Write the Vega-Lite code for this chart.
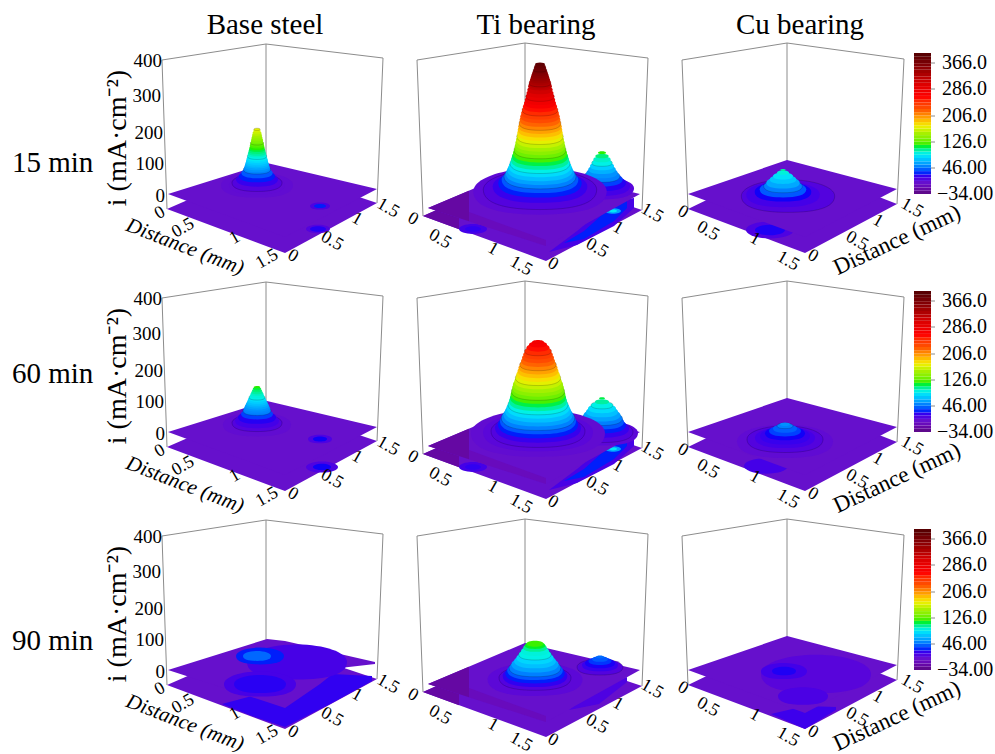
{"$schema":"https://vega.github.io/schema/vega-lite/v6.json","padding":{"left":12,"top":10,"right":0,"bottom":0},"background":"white",
"config":{"view":{"stroke":null},"text":{"font":"Liberation Serif","fill":"#000"}},
"data":{"values":[
{"k":"l","c":1,"r":[15,60,90],"g":"a","u":30,"v":216},{"k":"l","c":1,"r":[15,60,90],"g":"a","u":35,"v":67},
{"k":"l","c":1,"r":[15,60,90],"g":"b","u":134,"v":232},{"k":"l","c":1,"r":[15,60,90],"g":"b","u":134,"v":110},
{"k":"l","c":1,"r":[15,60,90],"g":"c","u":251,"v":218},{"k":"l","c":1,"r":[15,60,90],"g":"c","u":245,"v":73},
{"k":"l","c":1,"r":[15,60,90],"g":"d","u":30,"v":216},{"k":"l","c":1,"r":[15,60,90],"g":"d","u":134,"v":232},{"k":"l","c":1,"r":[15,60,90],"g":"d","u":251,"v":218},
{"k":"l","c":2,"r":[15,60,90],"g":"a","u":18,"v":216},{"k":"l","c":2,"r":[15,60,90],"g":"a","u":24,"v":60},
{"k":"l","c":2,"r":[15,60,90],"g":"b","u":126,"v":233},{"k":"l","c":2,"r":[15,60,90],"g":"b","u":126,"v":105},
{"k":"l","c":2,"r":[15,60,90],"g":"c","u":249,"v":218},{"k":"l","c":2,"r":[15,60,90],"g":"c","u":243,"v":66},
{"k":"l","c":2,"r":[15,60,90],"g":"d","u":18,"v":216},{"k":"l","c":2,"r":[15,60,90],"g":"d","u":126,"v":233},{"k":"l","c":2,"r":[15,60,90],"g":"d","u":249,"v":218},
{"k":"l","c":3,"r":[15,60,90],"g":"a","u":16,"v":216},{"k":"l","c":3,"r":[15,60,90],"g":"a","u":22,"v":67},
{"k":"l","c":3,"r":[15,60,90],"g":"b","u":121,"v":233},{"k":"l","c":3,"r":[15,60,90],"g":"b","u":121,"v":115},
{"k":"l","c":3,"r":[15,60,90],"g":"c","u":238,"v":217},{"k":"l","c":3,"r":[15,60,90],"g":"c","u":231,"v":72},
{"k":"l","c":3,"r":[15,60,90],"g":"d","u":16,"v":216},{"k":"l","c":3,"r":[15,60,90],"g":"d","u":121,"v":233},{"k":"l","c":3,"r":[15,60,90],"g":"d","u":238,"v":217},
{"k":"l","c":3,"r":[15,60,90],"g":"t1","u":265,"v":213},{"k":"l","c":3,"r":[15,60,90],"g":"t1","u":269,"v":213},
{"k":"l","c":3,"r":[15,60,90],"g":"t2","u":265,"v":187},{"k":"l","c":3,"r":[15,60,90],"g":"t2","u":269,"v":187},
{"k":"l","c":3,"r":[15,60,90],"g":"t3","u":265,"v":160},{"k":"l","c":3,"r":[15,60,90],"g":"t3","u":269,"v":160},
{"k":"l","c":3,"r":[15,60,90],"g":"t4","u":265,"v":134},{"k":"l","c":3,"r":[15,60,90],"g":"t4","u":269,"v":134},
{"k":"l","c":3,"r":[15,60,90],"g":"t5","u":265,"v":108},{"k":"l","c":3,"r":[15,60,90],"g":"t5","u":269,"v":108},

{"k":"f","c":1,"r":[15,60,90],"g":"p","i":0,"u":35,"v":67,"w":67},{"k":"f","c":1,"r":[15,60,90],"g":"p","i":0,"u":134,"v":110,"w":30.1},{"k":"f","c":1,"r":[15,60,90],"g":"p","i":0,"u":153,"v":103.7,"w":23},{"k":"f","c":1,"r":[15,60,90],"g":"p","i":0,"u":245,"v":73,"w":73},
{"k":"f","c":2,"r":[15,60,90],"g":"p","i":0,"u":24,"v":60,"w":60},{"k":"f","c":2,"r":[15,60,90],"g":"p","i":0,"u":126,"v":105,"w":22.7},{"k":"f","c":2,"r":[15,60,90],"g":"p","i":0,"u":147,"v":98,"w":15},{"k":"f","c":2,"r":[15,60,90],"g":"p","i":0,"u":243,"v":66,"w":66},
{"k":"f","c":3,"r":[15,60,90],"g":"p","i":0,"u":22,"v":67,"w":67},{"k":"f","c":3,"r":[15,60,90],"g":"p","i":0,"u":121,"v":115,"w":29.8},{"k":"f","c":3,"r":[15,60,90],"g":"p","i":0,"u":139,"v":108,"w":23},{"k":"f","c":3,"r":[15,60,90],"g":"p","i":0,"u":231,"v":72,"w":72},
{"k":"f","c":2,"r":[15,60,90],"g":"d","i":-20,"u":24,"v":60,"w":60},{"k":"f","c":2,"r":[15,60,90],"g":"d","i":-20,"u":60,"v":75.9,"w":46.8},
{"k":"f","c":2,"r":[15,60],"g":"e","i":14,"u":150,"v":24,"w":24},{"k":"f","c":2,"r":[15,60],"g":"e","i":14,"u":178,"v":45,"w":31},{"k":"f","c":2,"r":[15,60],"g":"e","i":14,"u":215,"v":75,"w":50},{"k":"f","c":2,"r":[15,60],"g":"e","i":14,"u":235,"v":78,"w":68},
{"k":"f","c":2,"r":[15,60],"g":"h","i":30,"u":165,"v":33,"w":33},{"k":"f","c":2,"r":[15,60],"g":"h","i":30,"u":185,"v":45,"w":37},{"k":"f","c":2,"r":[15,60],"g":"h","i":30,"u":215,"v":72,"w":55},{"k":"f","c":2,"r":[15,60],"g":"h","i":30,"u":228,"v":75,"w":68},
{"k":"f","c":2,"r":[90],"g":"e","i":12,"u":170,"v":42,"w":42},{"k":"f","c":2,"r":[90],"g":"e","i":12,"u":200,"v":65,"w":48},{"k":"f","c":2,"r":[90],"g":"e","i":12,"u":228,"v":75,"w":70},
{"k":"f","c":1,"r":[90],"g":"e","i":22,"u":90,"v":48,"w":48},{"k":"f","c":1,"r":[90],"g":"e","i":22,"u":120,"v":56,"w":36},{"k":"f","c":1,"r":[90],"g":"e","i":22,"u":153,"v":60,"w":25},{"k":"f","c":1,"r":[90],"g":"e","i":22,"u":200,"v":78,"w":49},{"k":"f","c":1,"r":[90],"g":"e","i":22,"u":240,"v":76,"w":71},
{"k":"f","c":3,"r":[90],"g":"e","i":18,"u":105,"v":38,"w":38},{"k":"f","c":3,"r":[90],"g":"e","i":18,"u":139,"v":46,"w":23},{"k":"f","c":3,"r":[90],"g":"e","i":18,"u":170,"v":45,"w":42},

{"k":"p","c":1,"r":[15],"u":186,"v":47,"s":12,"i":10},{"k":"p","c":1,"r":[15],"u":186,"v":47,"s":8,"i":25},
{"k":"p","c":1,"r":[60],"u":190,"v":47,"s":16,"i":12},{"k":"p","c":1,"r":[60],"u":190,"v":47,"s":9,"i":28},
{"k":"p","c":2,"r":[15,60],"u":74,"v":47,"s":14,"i":15},{"k":"p","c":2,"r":[15,60],"u":74,"v":47,"s":8,"i":22},
{"k":"p","c":2,"r":[15,60],"u":214,"v":65,"s":8,"i":60},{"k":"p","c":2,"r":[15,60],"u":214,"v":65,"s":4,"i":85},
{"k":"p","c":3,"r":[15],"u":104,"v":46,"s":24,"i":12},{"k":"p","c":3,"r":[15],"u":104,"v":46,"s":15,"i":26},
{"k":"p","c":3,"r":[60],"u":100,"v":48,"s":22,"i":15},

{"k":"t","c":1,"r":[15,60],"g":"p","i":0,"u":36,"v":82,"w":82},{"k":"t","c":1,"r":[15,60],"g":"p","i":0,"u":135,"v":113,"w":45.6},{"k":"t","c":1,"r":[15,60],"g":"p","i":0,"u":153,"v":108.7,"w":39},{"k":"t","c":1,"r":[15,60],"g":"p","i":0,"u":245,"v":87,"w":87},
{"k":"t","c":1,"r":[90],"g":"p","i":0,"u":36,"v":82,"w":82},{"k":"t","c":1,"r":[90],"g":"p","i":0,"u":135,"v":113,"w":50},{"k":"t","c":1,"r":[90],"g":"p","i":0,"u":153,"v":111,"w":44},{"k":"t","c":1,"r":[90],"g":"p","i":0,"u":188,"v":103,"w":68},{"k":"t","c":1,"r":[90],"g":"p","i":0,"u":208,"v":98,"w":84},{"k":"t","c":1,"r":[90],"g":"p","i":0,"u":243,"v":90,"w":88},
{"k":"t","c":2,"r":[15,60,90],"g":"p","i":0,"u":29,"v":68,"w":68},{"k":"t","c":2,"r":[15,60,90],"g":"p","i":0,"u":126,"v":109,"w":36.8},{"k":"t","c":2,"r":[15,60,90],"g":"p","i":0,"u":147,"v":104,"w":30},{"k":"t","c":2,"r":[15,60,90],"g":"p","i":0,"u":241,"v":82,"w":82},
{"k":"t","c":3,"r":[15,60,90],"g":"p","i":0,"u":22,"v":82,"w":82},{"k":"t","c":3,"r":[15,60,90],"g":"p","i":0,"u":121,"v":116,"w":45.6},{"k":"t","c":3,"r":[15,60,90],"g":"p","i":0,"u":139,"v":111.3,"w":39},{"k":"t","c":3,"r":[15,60,90],"g":"p","i":0,"u":231,"v":87,"w":87},
{"k":"t","c":2,"r":[15,60,90],"g":"d","i":-20,"u":29,"v":68,"w":68},{"k":"t","c":2,"r":[15,60,90],"g":"d","i":-20,"u":70,"v":85.3,"w":54.8},
{"k":"t","c":2,"r":[15,60,90],"g":"e","i":-8,"u":70,"v":64,"w":54.8},{"k":"t","c":2,"r":[15,60,90],"g":"e","i":-8,"u":147,"v":36,"w":30},

{"k":"s","c":1,"r":[15],"u":188,"v":70,"s":10,"i":12},{"k":"s","c":1,"r":[15],"u":188,"v":70,"s":6,"i":30},
{"k":"s","c":1,"r":[60],"u":188,"v":75,"s":12,"i":12},{"k":"s","c":1,"r":[60],"u":188,"v":75,"s":7,"i":28},
{"k":"s","c":1,"r":[90],"u":165,"v":90,"s":50,"i":14},{"k":"s","c":1,"r":[90],"u":128,"v":68,"s":36,"i":14},{"k":"s","c":1,"r":[90],"u":128,"v":68,"s":26,"i":24},{"k":"s","c":1,"r":[90],"u":128,"v":96,"s":24,"i":30},{"k":"s","c":1,"r":[90],"u":125,"v":96,"s":14,"i":44},

{"k":"s","c":1,"r":[15],"u":125,"v":91,"s":36,"i":3},{"k":"s","c":1,"r":[15],"u":125,"v":91.3,"s":28,"i":4},{"k":"s","c":1,"r":[15],"u":125,"v":93.3,"s":25,"i":10},{"k":"s","c":1,"r":[15],"u":125,"v":96.7,"s":21,"i":20},{"k":"s","c":1,"r":[15],"u":125,"v":100,"s":18,"i":30},{"k":"s","c":1,"r":[15],"u":125,"v":103.3,"s":15.7,"i":40},{"k":"s","c":1,"r":[15],"u":125,"v":106.7,"s":13.6,"i":50},{"k":"s","c":1,"r":[15],"u":125,"v":108.3,"s":13,"i":55},{"k":"s","c":1,"r":[15],"u":125,"v":110,"s":12.4,"i":60},{"k":"s","c":1,"r":[15],"u":125,"v":111.7,"s":11.9,"i":65},{"k":"s","c":1,"r":[15],"u":125,"v":113.3,"s":11.4,"i":70},{"k":"s","c":1,"r":[15],"u":125,"v":115,"s":11,"i":75},{"k":"s","c":1,"r":[15],"u":125,"v":116.7,"s":10.6,"i":80},{"k":"s","c":1,"r":[15],"u":125,"v":118.3,"s":10.1,"i":85},{"k":"s","c":1,"r":[15],"u":125,"v":120,"s":9.7,"i":90},{"k":"s","c":1,"r":[15],"u":125,"v":121.7,"s":9.3,"i":95},{"k":"s","c":1,"r":[15],"u":125,"v":123.3,"s":8.9,"i":100},{"k":"s","c":1,"r":[15],"u":125,"v":125,"s":8.4,"i":105},{"k":"s","c":1,"r":[15],"u":125,"v":126.7,"s":8,"i":110},{"k":"s","c":1,"r":[15],"u":125,"v":128.3,"s":7.6,"i":115},{"k":"s","c":1,"r":[15],"u":125,"v":130,"s":7.3,"i":120},{"k":"s","c":1,"r":[15],"u":125,"v":131.7,"s":7,"i":125},{"k":"s","c":1,"r":[15],"u":125,"v":133.3,"s":6.6,"i":130},{"k":"s","c":1,"r":[15],"u":125,"v":135,"s":6.2,"i":135},{"k":"s","c":1,"r":[15],"u":125,"v":136.7,"s":5.9,"i":140},{"k":"s","c":1,"r":[15],"u":125,"v":138.3,"s":5.5,"i":145},{"k":"s","c":1,"r":[15],"u":125,"v":140,"s":5.2,"i":150},{"k":"s","c":1,"r":[15],"u":125,"v":141.7,"s":4.8,"i":155},{"k":"s","c":1,"r":[15],"u":125,"v":143.3,"s":4.5,"i":160},{"k":"s","c":1,"r":[15],"u":125,"v":145,"s":3.9,"i":165},{"k":"s","c":1,"r":[15],"u":125,"v":146.7,"s":3.3,"i":170},

{"k":"s","c":1,"r":[60],"u":125,"v":89.5,"s":34,"i":3},{"k":"s","c":1,"r":[60],"u":125,"v":91.2,"s":25,"i":10},{"k":"s","c":1,"r":[60],"u":125,"v":93.5,"s":22,"i":15},{"k":"s","c":1,"r":[60],"u":125,"v":96.8,"s":19,"i":25},{"k":"s","c":1,"r":[60],"u":125,"v":100.2,"s":16,"i":35},{"k":"s","c":1,"r":[60],"u":125,"v":103.5,"s":14,"i":50},{"k":"s","c":1,"r":[60],"u":125,"v":105.2,"s":13.2,"i":52},{"k":"s","c":1,"r":[60],"u":125,"v":106.8,"s":12.5,"i":55},{"k":"s","c":1,"r":[60],"u":125,"v":108.5,"s":11.8,"i":60},{"k":"s","c":1,"r":[60],"u":125,"v":110.2,"s":11,"i":65},{"k":"s","c":1,"r":[60],"u":125,"v":111.8,"s":10.2,"i":70},{"k":"s","c":1,"r":[60],"u":125,"v":113.5,"s":9.5,"i":75},{"k":"s","c":1,"r":[60],"u":125,"v":115.2,"s":8.8,"i":80},{"k":"s","c":1,"r":[60],"u":125,"v":116.8,"s":8,"i":90},{"k":"s","c":1,"r":[60],"u":125,"v":118.5,"s":7.2,"i":92},{"k":"s","c":1,"r":[60],"u":125,"v":120.2,"s":6.5,"i":95},{"k":"s","c":1,"r":[60],"u":125,"v":121.8,"s":5.8,"i":100},{"k":"s","c":1,"r":[60],"u":125,"v":123.5,"s":5,"i":105},{"k":"s","c":1,"r":[60],"u":125,"v":125.2,"s":4.2,"i":110},{"k":"s","c":1,"r":[60],"u":125,"v":126.8,"s":3.3,"i":115},

{"k":"s","c":2,"r":[15,60],"u":178,"v":84,"s":32,"i":16},
{"k":"s","c":2,"r":[15],"u":203,"v":87.7,"s":32,"i":8},{"k":"s","c":2,"r":[15],"u":203,"v":90,"s":28,"i":15},{"k":"s","c":2,"r":[15],"u":203,"v":93.3,"s":24,"i":25},{"k":"s","c":2,"r":[15],"u":203,"v":96.7,"s":20.7,"i":35},{"k":"s","c":2,"r":[15],"u":203,"v":100,"s":18,"i":50},{"k":"s","c":2,"r":[15],"u":203,"v":103.3,"s":15.7,"i":55},{"k":"s","c":2,"r":[15],"u":203,"v":106.7,"s":13.7,"i":65},{"k":"s","c":2,"r":[15],"u":203,"v":110,"s":12,"i":75},{"k":"s","c":2,"r":[15],"u":203,"v":113.3,"s":10.3,"i":90},{"k":"s","c":2,"r":[15],"u":203,"v":116.7,"s":8.7,"i":95},{"k":"s","c":2,"r":[15],"u":203,"v":120,"s":6.7,"i":105},{"k":"s","c":2,"r":[15],"u":203,"v":123.3,"s":4,"i":115},

{"k":"s","c":2,"r":[15],"u":141,"v":84.7,"s":66.7,"i":5},{"k":"s","c":2,"r":[15],"u":141,"v":86.3,"s":56.7,"i":10},{"k":"s","c":2,"r":[15],"u":141,"v":89.7,"s":47.3,"i":20},{"k":"s","c":2,"r":[15],"u":141,"v":93,"s":41.7,"i":30},{"k":"s","c":2,"r":[15],"u":141,"v":96.3,"s":38.3,"i":40},{"k":"s","c":2,"r":[15],"u":141,"v":99.7,"s":36,"i":50},{"k":"s","c":2,"r":[15],"u":141,"v":103,"s":34.2,"i":60},{"k":"s","c":2,"r":[15],"u":141,"v":106.3,"s":32.7,"i":70},{"k":"s","c":2,"r":[15],"u":141,"v":109.7,"s":31.3,"i":80},{"k":"s","c":2,"r":[15],"u":141,"v":113,"s":30,"i":90},{"k":"s","c":2,"r":[15],"u":141,"v":116.3,"s":29,"i":100},{"k":"s","c":2,"r":[15],"u":141,"v":119.7,"s":28,"i":110},{"k":"s","c":2,"r":[15],"u":141,"v":123,"s":27,"i":120},{"k":"s","c":2,"r":[15],"u":141,"v":126.3,"s":26,"i":130},{"k":"s","c":2,"r":[15],"u":141,"v":129.7,"s":25.3,"i":140},{"k":"s","c":2,"r":[15],"u":141,"v":133,"s":24.7,"i":150},{"k":"s","c":2,"r":[15],"u":141,"v":136.3,"s":24,"i":160},{"k":"s","c":2,"r":[15],"u":141,"v":139.7,"s":23.3,"i":170},{"k":"s","c":2,"r":[15],"u":141,"v":143,"s":22.8,"i":180},{"k":"s","c":2,"r":[15],"u":141,"v":146.3,"s":22.3,"i":190},{"k":"s","c":2,"r":[15],"u":141,"v":149.7,"s":21.7,"i":200},{"k":"s","c":2,"r":[15],"u":141,"v":153,"s":21,"i":210},{"k":"s","c":2,"r":[15],"u":141,"v":156.3,"s":20.4,"i":220},{"k":"s","c":2,"r":[15],"u":141,"v":159.7,"s":19.7,"i":230},{"k":"s","c":2,"r":[15],"u":141,"v":163,"s":18.9,"i":240},{"k":"s","c":2,"r":[15],"u":141,"v":166.3,"s":18,"i":250},{"k":"s","c":2,"r":[15],"u":141,"v":169.7,"s":17,"i":260},{"k":"s","c":2,"r":[15],"u":141,"v":173,"s":16,"i":270},{"k":"s","c":2,"r":[15],"u":141,"v":176.3,"s":15.2,"i":280},{"k":"s","c":2,"r":[15],"u":141,"v":179.7,"s":14.3,"i":290},{"k":"s","c":2,"r":[15],"u":141,"v":183,"s":13.5,"i":300},{"k":"s","c":2,"r":[15],"u":141,"v":186.3,"s":12.7,"i":310},{"k":"s","c":2,"r":[15],"u":141,"v":189.7,"s":11.9,"i":320},{"k":"s","c":2,"r":[15],"u":141,"v":191.3,"s":11.4,"i":325},{"k":"s","c":2,"r":[15],"u":141,"v":193,"s":11,"i":330},{"k":"s","c":2,"r":[15],"u":141,"v":194.7,"s":10.5,"i":335},{"k":"s","c":2,"r":[15],"u":141,"v":196.3,"s":10,"i":340},{"k":"s","c":2,"r":[15],"u":141,"v":198,"s":9.5,"i":345},{"k":"s","c":2,"r":[15],"u":141,"v":199.7,"s":9,"i":350},{"k":"s","c":2,"r":[15],"u":141,"v":201.3,"s":8.5,"i":355},{"k":"s","c":2,"r":[15],"u":141,"v":203,"s":7.9,"i":360},{"k":"s","c":2,"r":[15],"u":141,"v":204.7,"s":7.3,"i":365},{"k":"s","c":2,"r":[15],"u":141,"v":206.3,"s":6.7,"i":370},{"k":"s","c":2,"r":[15],"u":141,"v":208,"s":6.2,"i":375},{"k":"s","c":2,"r":[15],"u":141,"v":209.7,"s":5.8,"i":380},{"k":"s","c":2,"r":[15],"u":141,"v":211.7,"s":5,"i":386},

{"k":"s","c":2,"r":[60],"u":203,"v":81,"s":36,"i":6},{"k":"s","c":2,"r":[60],"u":203,"v":82.3,"s":31,"i":10},{"k":"s","c":2,"r":[60],"u":203,"v":85.7,"s":27,"i":20},{"k":"s","c":2,"r":[60],"u":203,"v":89,"s":24,"i":30},{"k":"s","c":2,"r":[60],"u":203,"v":92.3,"s":22,"i":40},{"k":"s","c":2,"r":[60],"u":203,"v":95.7,"s":20.5,"i":50},{"k":"s","c":2,"r":[60],"u":203,"v":99,"s":18.5,"i":60},{"k":"s","c":2,"r":[60],"u":203,"v":102.3,"s":16,"i":70},{"k":"s","c":2,"r":[60],"u":203,"v":105.7,"s":14,"i":80},{"k":"s","c":2,"r":[60],"u":203,"v":109,"s":11,"i":90},{"k":"s","c":2,"r":[60],"u":203,"v":112.3,"s":7,"i":100},{"k":"s","c":2,"r":[60],"u":203,"v":115.7,"s":3,"i":110},

{"k":"s","c":2,"r":[60],"u":139,"v":80.7,"s":67,"i":3},{"k":"s","c":2,"r":[60],"u":139,"v":82,"s":55,"i":7},{"k":"s","c":2,"r":[60],"u":139,"v":83,"s":47,"i":10},{"k":"s","c":2,"r":[60],"u":139,"v":86.4,"s":43,"i":20},{"k":"s","c":2,"r":[60],"u":139,"v":89.7,"s":40,"i":30},{"k":"s","c":2,"r":[60],"u":139,"v":93,"s":38,"i":40},{"k":"s","c":2,"r":[60],"u":139,"v":96.4,"s":36.7,"i":50},{"k":"s","c":2,"r":[60],"u":139,"v":99.7,"s":34.7,"i":60},{"k":"s","c":2,"r":[60],"u":139,"v":103,"s":33,"i":70},{"k":"s","c":2,"r":[60],"u":139,"v":106.4,"s":31.5,"i":80},{"k":"s","c":2,"r":[60],"u":139,"v":109.7,"s":30,"i":90},{"k":"s","c":2,"r":[60],"u":139,"v":113,"s":29,"i":100},{"k":"s","c":2,"r":[60],"u":139,"v":116.4,"s":28,"i":110},{"k":"s","c":2,"r":[60],"u":139,"v":119.7,"s":27.3,"i":120},{"k":"s","c":2,"r":[60],"u":139,"v":123,"s":26.6,"i":130},{"k":"s","c":2,"r":[60],"u":139,"v":126.4,"s":25.8,"i":140},{"k":"s","c":2,"r":[60],"u":139,"v":129.7,"s":25,"i":150},{"k":"s","c":2,"r":[60],"u":139,"v":133,"s":23.7,"i":160},{"k":"s","c":2,"r":[60],"u":139,"v":136.4,"s":22.7,"i":170},{"k":"s","c":2,"r":[60],"u":139,"v":139.7,"s":21.7,"i":180},{"k":"s","c":2,"r":[60],"u":139,"v":143,"s":20.5,"i":190},{"k":"s","c":2,"r":[60],"u":139,"v":146.4,"s":19.5,"i":200},{"k":"s","c":2,"r":[60],"u":139,"v":149.7,"s":18.3,"i":210},{"k":"s","c":2,"r":[60],"u":139,"v":153,"s":17,"i":220},{"k":"s","c":2,"r":[60],"u":139,"v":156.4,"s":16,"i":230},{"k":"s","c":2,"r":[60],"u":139,"v":159.7,"s":14.7,"i":240},{"k":"s","c":2,"r":[60],"u":139,"v":163,"s":13.5,"i":250},{"k":"s","c":2,"r":[60],"u":139,"v":166.4,"s":11.5,"i":260},{"k":"s","c":2,"r":[60],"u":139,"v":169.7,"s":9,"i":270},{"k":"s","c":2,"r":[60],"u":139,"v":172,"s":6,"i":277},

{"k":"s","c":2,"r":[90],"u":201,"v":85,"s":23,"i":10},{"k":"s","c":2,"r":[90],"u":201,"v":87,"s":18,"i":20},{"k":"s","c":2,"r":[90],"u":201,"v":89,"s":15,"i":27},{"k":"s","c":2,"r":[90],"u":201,"v":91,"s":11.5,"i":33},{"k":"s","c":2,"r":[90],"u":201,"v":93,"s":8,"i":40},{"k":"s","c":2,"r":[90],"u":201,"v":95,"s":4,"i":45},

{"k":"s","c":2,"r":[90],"u":136,"v":72.7,"s":47.5,"i":6},{"k":"s","c":2,"r":[90],"u":136,"v":74.3,"s":36,"i":10},{"k":"s","c":2,"r":[90],"u":136,"v":76.3,"s":32.3,"i":22},{"k":"s","c":2,"r":[90],"u":136,"v":79,"s":29.7,"i":30},{"k":"s","c":2,"r":[90],"u":136,"v":81.7,"s":27.8,"i":40},{"k":"s","c":2,"r":[90],"u":136,"v":84.3,"s":25.9,"i":50},{"k":"s","c":2,"r":[90],"u":136,"v":87.7,"s":23.6,"i":60},{"k":"s","c":2,"r":[90],"u":136,"v":91,"s":20.9,"i":70},{"k":"s","c":2,"r":[90],"u":136,"v":94.3,"s":18.6,"i":78},{"k":"s","c":2,"r":[90],"u":136,"v":97.7,"s":16.3,"i":90},{"k":"s","c":2,"r":[90],"u":136,"v":101,"s":14,"i":92},{"k":"s","c":2,"r":[90],"u":136,"v":104.3,"s":11.8,"i":102},{"k":"s","c":2,"r":[90],"u":136,"v":106.7,"s":10.3,"i":112},{"k":"s","c":2,"r":[90],"u":136,"v":108.3,"s":8.4,"i":118},

{"k":"s","c":3,"r":[15],"u":122,"v":80,"s":46.7,"i":10},{"k":"s","c":3,"r":[15],"u":117,"v":81.7,"s":36.7,"i":15},{"k":"s","c":3,"r":[15],"u":117,"v":84.3,"s":28.3,"i":28},{"k":"s","c":3,"r":[15],"u":117,"v":86.7,"s":23.3,"i":40},{"k":"s","c":3,"r":[15],"u":117,"v":90,"s":19.3,"i":50},{"k":"s","c":3,"r":[15],"u":117,"v":93.3,"s":16.7,"i":62},{"k":"s","c":3,"r":[15],"u":117,"v":96.7,"s":13.3,"i":72},{"k":"s","c":3,"r":[15],"u":117,"v":100,"s":10,"i":82},{"k":"s","c":3,"r":[15],"u":117,"v":103.3,"s":6,"i":92},{"k":"s","c":3,"r":[15],"u":117,"v":106,"s":2.7,"i":100},

{"k":"s","c":3,"r":[60],"u":119,"v":72.8,"s":48,"i":4},{"k":"s","c":3,"r":[60],"u":119,"v":74.8,"s":38,"i":10},{"k":"s","c":3,"r":[60],"u":119,"v":76.5,"s":30,"i":15},{"k":"s","c":3,"r":[60],"u":119,"v":78.2,"s":25,"i":20},{"k":"s","c":3,"r":[60],"u":119,"v":80.8,"s":20,"i":28},{"k":"s","c":3,"r":[60],"u":119,"v":83.2,"s":16,"i":35},{"k":"s","c":3,"r":[60],"u":119,"v":85.5,"s":12,"i":42},{"k":"s","c":3,"r":[60],"u":119,"v":88.2,"s":8,"i":50},{"k":"s","c":3,"r":[60],"u":119,"v":89.8,"s":5,"i":55},

{"k":"s","c":3,"r":[90],"u":150,"v":78,"s":55,"i":8},{"k":"s","c":3,"r":[90],"u":137,"v":56,"s":25,"i":13},{"k":"s","c":3,"r":[90],"u":118,"v":81,"s":23,"i":16},{"k":"s","c":3,"r":[90],"u":118,"v":81,"s":12,"i":26},

{"k":"c","c":3,"r":[15,60,90],"u":248,"x":265,"v":82,"w":85.3,"i":-29},{"k":"c","c":3,"r":[15,60,90],"u":248,"x":265,"v":85.3,"w":88.5,"i":-19},{"k":"c","c":3,"r":[15,60,90],"u":248,"x":265,"v":88.5,"w":91.8,"i":-9},{"k":"c","c":3,"r":[15,60,90],"u":248,"x":265,"v":91.8,"w":95.1,"i":1},{"k":"c","c":3,"r":[15,60,90],"u":248,"x":265,"v":95.1,"w":98.4,"i":11},{"k":"c","c":3,"r":[15,60,90],"u":248,"x":265,"v":98.4,"w":101.6,"i":21},{"k":"c","c":3,"r":[15,60,90],"u":248,"x":265,"v":101.6,"w":104.9,"i":31},{"k":"c","c":3,"r":[15,60,90],"u":248,"x":265,"v":104.9,"w":108.2,"i":41},{"k":"c","c":3,"r":[15,60,90],"u":248,"x":265,"v":108.2,"w":111.4,"i":51},{"k":"c","c":3,"r":[15,60,90],"u":248,"x":265,"v":111.4,"w":114.7,"i":61},{"k":"c","c":3,"r":[15,60,90],"u":248,"x":265,"v":114.7,"w":118,"i":71},{"k":"c","c":3,"r":[15,60,90],"u":248,"x":265,"v":118,"w":121.2,"i":81},{"k":"c","c":3,"r":[15,60,90],"u":248,"x":265,"v":121.2,"w":124.5,"i":91},{"k":"c","c":3,"r":[15,60,90],"u":248,"x":265,"v":124.5,"w":127.8,"i":101},{"k":"c","c":3,"r":[15,60,90],"u":248,"x":265,"v":127.8,"w":131.1,"i":111},{"k":"c","c":3,"r":[15,60,90],"u":248,"x":265,"v":131.1,"w":134.3,"i":121},{"k":"c","c":3,"r":[15,60,90],"u":248,"x":265,"v":134.3,"w":137.6,"i":131},{"k":"c","c":3,"r":[15,60,90],"u":248,"x":265,"v":137.6,"w":140.9,"i":141},{"k":"c","c":3,"r":[15,60,90],"u":248,"x":265,"v":140.9,"w":144.1,"i":151},{"k":"c","c":3,"r":[15,60,90],"u":248,"x":265,"v":144.1,"w":147.4,"i":161},{"k":"c","c":3,"r":[15,60,90],"u":248,"x":265,"v":147.4,"w":150.7,"i":171},{"k":"c","c":3,"r":[15,60,90],"u":248,"x":265,"v":150.7,"w":153.9,"i":181},{"k":"c","c":3,"r":[15,60,90],"u":248,"x":265,"v":153.9,"w":157.2,"i":191},{"k":"c","c":3,"r":[15,60,90],"u":248,"x":265,"v":157.2,"w":160.5,"i":201},{"k":"c","c":3,"r":[15,60,90],"u":248,"x":265,"v":160.5,"w":163.8,"i":211},{"k":"c","c":3,"r":[15,60,90],"u":248,"x":265,"v":163.8,"w":167,"i":221},{"k":"c","c":3,"r":[15,60,90],"u":248,"x":265,"v":167,"w":170.3,"i":231},{"k":"c","c":3,"r":[15,60,90],"u":248,"x":265,"v":170.3,"w":173.6,"i":241},{"k":"c","c":3,"r":[15,60,90],"u":248,"x":265,"v":173.6,"w":176.8,"i":251},{"k":"c","c":3,"r":[15,60,90],"u":248,"x":265,"v":176.8,"w":180.1,"i":261},{"k":"c","c":3,"r":[15,60,90],"u":248,"x":265,"v":180.1,"w":183.4,"i":271},{"k":"c","c":3,"r":[15,60,90],"u":248,"x":265,"v":183.4,"w":186.6,"i":281},{"k":"c","c":3,"r":[15,60,90],"u":248,"x":265,"v":186.6,"w":189.9,"i":291},{"k":"c","c":3,"r":[15,60,90],"u":248,"x":265,"v":189.9,"w":193.2,"i":301},{"k":"c","c":3,"r":[15,60,90],"u":248,"x":265,"v":193.2,"w":196.5,"i":311},{"k":"c","c":3,"r":[15,60,90],"u":248,"x":265,"v":196.5,"w":199.7,"i":321},{"k":"c","c":3,"r":[15,60,90],"u":248,"x":265,"v":199.7,"w":203,"i":331},{"k":"c","c":3,"r":[15,60,90],"u":248,"x":265,"v":203,"w":206.3,"i":341},{"k":"c","c":3,"r":[15,60,90],"u":248,"x":265,"v":206.3,"w":209.5,"i":351},{"k":"c","c":3,"r":[15,60,90],"u":248,"x":265,"v":209.5,"w":212.8,"i":361},{"k":"c","c":3,"r":[15,60,90],"u":248,"x":265,"v":212.8,"w":216.1,"i":371},{"k":"c","c":3,"r":[15,60,90],"u":248,"x":265,"v":216.1,"w":219.3,"i":381},{"k":"c","c":3,"r":[15,60,90],"u":248,"x":265,"v":219.3,"w":223,"i":391},

{"k":"z","c":1,"r":[15,60,90],"u":30,"v":215,"t":"400"},{"k":"z","c":1,"r":[15,60,90],"u":29,"v":180,"t":"300"},{"k":"z","c":1,"r":[15,60,90],"u":31,"v":143,"t":"200"},{"k":"z","c":1,"r":[15,60,90],"u":32,"v":112,"t":"100"},{"k":"z","c":1,"r":[15,60,90],"u":33,"v":80,"t":"0"},
{"k":"a","c":1,"r":[15,60,90],"u":28,"v":63,"t":"0"},{"k":"a","c":1,"r":[15,60,90],"u":51,"v":48,"t":"0.5"},{"k":"a","c":1,"r":[15,60,90],"u":103,"v":38,"t":"1"},{"k":"a","c":1,"r":[15,60,90],"u":135,"v":17,"t":"1.5"},
{"k":"b","c":1,"r":[15,60,90],"u":161,"v":20,"t":"0"},{"k":"b","c":1,"r":[15,60,90],"u":200,"v":35,"t":"0.5"},{"k":"b","c":1,"r":[15,60,90],"u":225,"v":57,"t":"1"},{"k":"b","c":1,"r":[15,60,90],"u":256,"v":68,"t":"1.5"},
{"k":"b","c":2,"r":[15,60,90],"u":14,"v":57,"t":"0"},{"k":"b","c":2,"r":[15,60,90],"u":41,"v":37,"t":"0.5"},{"k":"b","c":2,"r":[15,60,90],"u":94,"v":27,"t":"1"},{"k":"b","c":2,"r":[15,60,90],"u":122,"v":10,"t":"1.5"},
{"k":"b","c":2,"r":[15,60,90],"u":154,"v":12,"t":"0"},{"k":"b","c":2,"r":[15,60,90],"u":198,"v":28,"t":"0.5"},{"k":"b","c":2,"r":[15,60,90],"u":219,"v":48,"t":"1"},{"k":"b","c":2,"r":[15,60,90],"u":253,"v":63,"t":"1.5"},
{"k":"b","c":3,"r":[15,60,90],"u":17,"v":64,"t":"0"},{"k":"b","c":3,"r":[15,60,90],"u":42,"v":45,"t":"0.5"},{"k":"b","c":3,"r":[15,60,90],"u":89,"v":37,"t":"1"},{"k":"b","c":3,"r":[15,60,90],"u":122,"v":15,"t":"1.5"},
{"k":"b","c":3,"r":[15,60,90],"u":147,"v":20,"t":"0"},{"k":"b","c":3,"r":[15,60,90],"u":191,"v":35,"t":"0.5"},{"k":"b","c":3,"r":[15,60,90],"u":212,"v":55,"t":"1"},{"k":"b","c":3,"r":[15,60,90],"u":246,"v":68,"t":"1.5"},
{"k":"it","c":1,"r":[15,60,90],"u":-14,"v":138,"t":"i (mA·cm⁻²)"},
{"k":"d1","c":1,"r":[15,60,90],"u":53,"v":29,"t":"Distance (mm)"},
{"k":"d3","c":3,"r":[15,60,90],"u":231,"v":36,"t":"Distance (mm)"},
{"k":"cb","c":3,"r":[15,60,90],"u":276,"v":213,"t":"366.0"},{"k":"cb","c":3,"r":[15,60,90],"u":276,"v":187,"t":"286.0"},{"k":"cb","c":3,"r":[15,60,90],"u":276,"v":160,"t":"206.0"},{"k":"cb","c":3,"r":[15,60,90],"u":276,"v":134,"t":"126.0"},{"k":"cb","c":3,"r":[15,60,90],"u":276,"v":108,"t":"46.00"},{"k":"cb","c":3,"r":[15,60,90],"u":271,"v":82,"t":"−34.00"},
{"k":"ti","c":1,"r":[15],"u":133,"v":251,"t":"Base steel"},{"k":"ti","c":2,"r":[15],"u":137,"v":251,"t":"Ti bearing"},{"k":"ti","c":3,"r":[15],"u":134,"v":251,"t":"Cu bearing"},
{"k":"rt","c":1,"r":[15],"u":-120,"v":113,"t":"15 min"},{"k":"rt","c":1,"r":[60],"u":-120,"v":140,"t":"60 min"},{"k":"rt","c":1,"r":[90],"u":-120,"v":111,"t":"90 min"}
]},
"transform":[{"flatten":["r"]}],
"facet":{"row":{"field":"r","type":"ordinal","header":null},"column":{"field":"c","type":"ordinal","header":null}},
"spacing":0,"bounds":"flush",
"spec":{"width":267,"height":238,
"encoding":{"x":{"field":"u","type":"quantitative","axis":null,"scale":{"domain":[0,267],"nice":false,"zero":false}},"y":{"field":"v","type":"quantitative","axis":null,"scale":{"domain":[0,238],"nice":false,"zero":false}}},
"layer":[
{"transform":[{"filter":"datum.k=='l'"}],"mark":{"type":"line","stroke":"#8c8c8c","strokeWidth":1},"encoding":{"detail":{"field":"g"}}},
{"transform":[{"filter":"datum.k=='f'"}],"mark":{"type":"area","opacity":1},"encoding":{"y2":{"field":"w"},"detail":{"field":"g"},"color":{"field":"i","type":"quantitative","legend":null,"scale":{"domain":[-34,-15,0,15,28,46,70,88,100,113,149,174,200,225,262,300,340,397],"range":["#5a0a80","#6808b0","#6610cc","#4400e8","#1000f8","#0070ff","#00c0ff","#00f0f0","#00f0a0","#00f000","#a0f000","#f0f000","#ffa000","#ff5000","#ff0000","#e00000","#a00000","#500000"]}}}},
{"transform":[{"filter":"datum.k=='p'"}],"mark":{"type":"point","filled":true,"opacity":1,"strokeWidth":0,"shape":"M-1 0C-1 -0.193 -0.552 -0.35 0 -0.35C0.552 -0.35 1 -0.193 1 0C1 0.193 0.552 0.35 0 0.35C-0.552 0.35 -1 0.193 -1 0Z"},"encoding":{"size":{"field":"s","type":"quantitative","legend":null,"scale":{"type":"pow","exponent":2,"domain":[0,100],"range":[0,40000]}},"color":{"field":"i","type":"quantitative","legend":null}}},
{"transform":[{"filter":"datum.k=='t'"}],"mark":{"type":"area","opacity":1},"encoding":{"y2":{"field":"w"},"detail":{"field":"g"},"color":{"field":"i","type":"quantitative","legend":null}}},
{"transform":[{"filter":"datum.k=='s'"}],"mark":{"type":"point","filled":true,"opacity":1,"stroke":"#000","strokeWidth":0.5,"shape":"M-1 0C-1 -0.193 -0.552 -0.35 0 -0.35C0.552 -0.35 1 -0.193 1 0C1 0.25 0.6 0.35 0 0.35C-0.6 0.35 -1 0.25 -1 0Z"},"encoding":{"size":{"field":"s","type":"quantitative","legend":null},"color":{"field":"i","type":"quantitative","legend":null},"strokeOpacity":{"condition":{"test":"datum.i%40==10","value":0.35},"value":0}}},
{"transform":[{"filter":"datum.k=='c'"}],"mark":{"type":"rect"},"encoding":{"x2":{"field":"x"},"y2":{"field":"w"},"color":{"field":"i","type":"quantitative","legend":null}}},
{"transform":[{"filter":"datum.k=='z'"}],"mark":{"type":"text","fontSize":19,"align":"right","baseline":"middle"},"encoding":{"text":{"field":"t"}}},
{"transform":[{"filter":"datum.k=='a'"}],"mark":{"type":"text","fontSize":18,"angle":-30,"align":"center","baseline":"middle"},"encoding":{"text":{"field":"t"}}},
{"transform":[{"filter":"datum.k=='b'"}],"mark":{"type":"text","fontSize":18,"angle":30,"align":"center","baseline":"middle"},"encoding":{"text":{"field":"t"}}},
{"transform":[{"filter":"datum.k=='it'"}],"mark":{"type":"text","fontSize":28,"angle":270,"align":"center","baseline":"middle"},"encoding":{"text":{"field":"t"}}},
{"transform":[{"filter":"datum.k=='d1'"}],"mark":{"type":"text","fontSize":21,"fontStyle":"italic","angle":21,"align":"center","baseline":"middle"},"encoding":{"text":{"field":"t"}}},
{"transform":[{"filter":"datum.k=='d3'"}],"mark":{"type":"text","fontSize":23,"angle":335,"align":"center","baseline":"middle"},"encoding":{"text":{"field":"t"}}},
{"transform":[{"filter":"datum.k=='cb'"}],"mark":{"type":"text","fontSize":20,"align":"left","baseline":"middle"},"encoding":{"text":{"field":"t"}}},
{"transform":[{"filter":"datum.k=='ti'"}],"mark":{"type":"text","fontSize":29,"align":"center","baseline":"middle"},"encoding":{"text":{"field":"t"}}},
{"transform":[{"filter":"datum.k=='rt'"}],"mark":{"type":"text","fontSize":29,"align":"left","baseline":"middle"},"encoding":{"text":{"field":"t"}}}
]}}
